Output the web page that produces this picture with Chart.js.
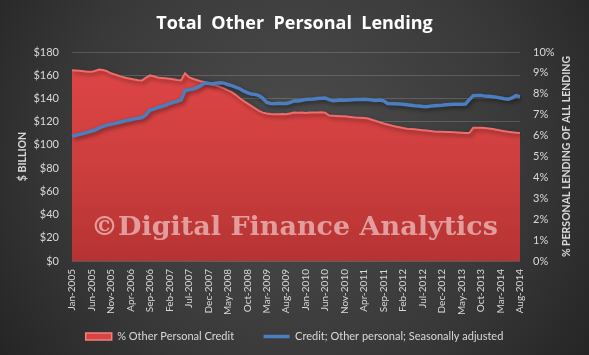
<!DOCTYPE html>
<html>
<head>
<meta charset="utf-8">
<script src="https://cdn.jsdelivr.net/npm/chart.js@4.4.1/dist/chart.umd.min.js"></script>
<style>
  html, body { margin: 0; padding: 0; background: #333; }
  #wrap { width: 589px; height: 355px; position: relative; }
</style>
</head>
<body>
<div id="wrap"><canvas id="c" width="589" height="355"></canvas></div>
<script>
// ---------- DATA ----------
const monthNames = ['Jan','Feb','Mar','Apr','May','Jun','Jul','Aug','Sep','Oct','Nov','Dec'];
const categories = [];
for (let i = 0; i < 116; i++) {
  categories.push(monthNames[i % 12] + '-' + (2005 + Math.floor(i / 12)));
}

// % Other Personal Credit (right axis, %), Jan-2005 .. Aug-2014
const pctOtherPersonal = [
  9.13, 9.12, 9.10, 9.08, 9.06,  9.05, 9.10, 9.16, 9.14, 9.08,
  8.98, 8.92, 8.86, 8.80, 8.76,  8.72, 8.68, 8.65, 8.64, 8.78,
  8.88, 8.84, 8.78, 8.76, 8.74,  8.72, 8.70, 8.66, 8.64, 8.98,
  8.80, 8.72, 8.66, 8.60, 8.56,  8.52, 8.46, 8.40, 8.33, 8.26,
  8.16, 8.08, 7.95, 7.80, 7.66,  7.54, 7.42, 7.30, 7.18, 7.10,
  7.06, 7.03, 7.02, 7.02, 7.03,  7.02, 7.06, 7.10, 7.09, 7.10,
  7.08, 7.10, 7.10, 7.11, 7.12,  7.10, 6.96, 6.95, 6.94, 6.93,
  6.92, 6.90, 6.88, 6.86, 6.85,  6.84, 6.82, 6.76, 6.70, 6.64,
  6.58, 6.53, 6.48, 6.44, 6.40,  6.36, 6.33, 6.31, 6.30, 6.28,
  6.26, 6.24, 6.22, 6.20, 6.19,  6.18, 6.17, 6.17, 6.16, 6.15,
  6.14, 6.13, 6.12, 6.38, 6.38,  6.37, 6.36, 6.34, 6.32, 6.28,
  6.24, 6.21, 6.18, 6.16, 6.14,  6.12
];

// Credit; Other personal; Seasonally adjusted ($ billion, left axis)
const creditOtherPersonal = [
  107.5, 108.3, 109.2, 110.0, 110.8,  111.8, 112.8, 114.7, 116.0, 117.0,
  117.7, 118.5, 119.3, 120.1, 120.9,  121.7, 122.4, 123.0, 123.5, 126.0,
  129.9, 130.8, 132.2, 133.0, 134.0,  135.5, 136.6, 137.6, 138.7, 146.8,
  147.5, 148.0, 149.1, 151.0, 153.2,  153.0, 152.5, 153.2, 153.5, 153.2,
  152.0, 151.0, 149.7, 148.5, 146.5,  145.0, 143.9, 143.5, 142.4, 140.0,
  136.5, 135.7, 135.5, 135.8, 135.6,  135.7, 136.5, 138.0, 137.8, 138.5,
  139.0, 139.3, 139.6, 140.0, 140.2,  140.4, 139.0, 138.0, 138.2, 138.6,
  138.5, 138.7, 138.9, 139.0, 139.0,  139.2, 139.0, 138.6, 138.3, 138.7,
  138.0, 135.7, 135.5, 135.4, 135.2,  135.0, 134.6, 134.2, 133.8, 133.5,
  133.0, 132.8, 133.4, 133.8, 134.0,  134.2, 134.5, 134.8, 135.0, 135.0,
  135.1, 135.2, 139.0, 142.4, 142.6,  142.5, 142.0, 141.8, 141.5, 141.0,
  140.4, 139.8, 139.4, 140.5, 142.4,  141.5
];

const leftTicks = { min: 0, max: 180, step: 20 };
const rightTicks = { min: 0, max: 10, step: 1 };
const titleText = 'Total  Other  Personal  Lending';
const leftAxisTitle = '$ BILLION';
const rightAxisTitle = '% PERSONAL LENDING OF ALL LENDING';
const watermarkText = '\u00A9Digital Finance Analytics';
const seriesNames = ['% Other Personal Credit', 'Credit; Other personal; Seasonally adjusted'];

// ---------- STYLE ----------
const TXT = '#d9d9d9';
Chart.defaults.font.family = 'Lato, "Open Sans", sans-serif';
Chart.defaults.color = TXT;

const bgPlugin = {
  id: 'bg',
  beforeDraw(chart) {
    const ctx = chart.ctx, w = chart.width, h = chart.height;
    ctx.save();
    const g = ctx.createRadialGradient(w * 0.5, h * 0.42, 10, w * 0.5, h * 0.42, w * 0.62);
    g.addColorStop(0, '#4c4c4c');
    g.addColorStop(0.6, '#393939');
    g.addColorStop(1, '#242424');
    ctx.fillStyle = g;
    ctx.fillRect(0, 0, w, h);
    ctx.restore();
  }
};

const shadowPlugin = {
  id: 'shadow',
  beforeDatasetDraw(chart, args) {
    const ctx = chart.ctx;
    ctx.save();
    ctx.shadowColor = 'rgba(0,0,0,0.45)';
    ctx.shadowBlur = 4;
    ctx.shadowOffsetX = 2;
    ctx.shadowOffsetY = 2;
  },
  afterDatasetDraw(chart) {
    chart.ctx.restore();
  }
};

const textPlugin = {
  id: 'texts',
  afterDatasetsDraw(chart) {
    const ctx = chart.ctx;
    ctx.save();
    ctx.font = 'bold 26px "DejaVu Serif", serif';
    const tw = ctx.measureText(watermarkText).width;
    const target = 407;
    const cx = 294.5, by = 235;
    ctx.translate(cx, by);
    ctx.scale(target / tw, 1);
    ctx.fillStyle = 'rgba(255,238,238,0.56)';
    ctx.textAlign = 'center';
    ctx.textBaseline = 'alphabetic';
    ctx.fillText(watermarkText, 0, 0);
    ctx.restore();
  },
  afterDraw(chart) {
    const ctx = chart.ctx;
    const a = chart.chartArea;
    ctx.save();
    ctx.font = 'bold 10.5px Lato, sans-serif';
    ctx.fillStyle = TXT;
    ctx.textAlign = 'center';
    ctx.textBaseline = 'middle';
    ctx.translate(567, (a.top + a.bottom) / 2);
    ctx.rotate(-Math.PI / 2);
    ctx.fillText(rightAxisTitle, 0, 0);
    ctx.restore();
  }
};

const ctx = document.getElementById('c').getContext('2d');

function redFill(context) {
  const chart = context.chart;
  const a = chart.chartArea;
  if (!a) return '#d24040';
  const g = chart.ctx.createLinearGradient(0, a.top, 0, a.bottom);
  g.addColorStop(0, '#e04646');
  g.addColorStop(0.5, '#cf3f3f');
  g.addColorStop(1, '#b63333');
  return g;
}

new Chart(ctx, {
  type: 'line',
  data: {
    labels: categories,
    datasets: [
      {
        label: seriesNames[0],
        data: pctOtherPersonal,
        yAxisID: 'y1',
        fill: 'origin',
        backgroundColor: redFill,
        borderColor: '#ee6c6c',
        borderWidth: 2,
        pointRadius: 0,
        tension: 0,
        order: 2
      },
      {
        label: seriesNames[1],
        data: creditOtherPersonal,
        yAxisID: 'y',
        fill: false,
        borderColor: '#4a7ec0',
        borderWidth: 3.5,
        pointRadius: 0,
        tension: 0,
        order: 1
      }
    ]
  },
  options: {
    responsive: false,
    animation: false,
    devicePixelRatio: 1,
    layout: { padding: { left: 0, right: 0, top: 0, bottom: 3 } },
    plugins: {
      tooltip: { enabled: false },
      title: {
        display: true,
        text: titleText,
        color: '#ffffff',
        font: { family: '"Open Sans", sans-serif', size: 18, weight: 'bold', lineHeight: 1.2 },
        padding: { top: 13, bottom: 17.4 }
      },
      legend: {
        display: true,
        position: 'bottom',
        labels: {
          color: TXT,
          font: { size: 11 },
          usePointStyle: true,
          pointStyleWidth: 26,
          boxHeight: 7,
          padding: 13,
          sort: (a, b) => a.datasetIndex - b.datasetIndex,
          generateLabels(chart) {
            const items = Chart.defaults.plugins.legend.labels.generateLabels(chart);
            items.forEach(it => {
              if (it.datasetIndex === 0) {
                it.text = it.text + '\u2002\u2002\u2002';
                it.pointStyle = 'rect';
                it.fillStyle = '#d84444';
                it.strokeStyle = '#f08080';
                it.lineWidth = 1.5;
              } else {
                it.pointStyle = 'line';
                it.strokeStyle = '#4a7ec0';
                it.lineWidth = 3.5;
              }
            });
            return items;
          }
        }
      }
    },
    scales: {
      x: {
        type: 'category',
        offset: false,
        grid: { display: false, drawTicks: false },
        border: { display: false },
        ticks: {
          autoSkip: false,
          maxRotation: 90,
          minRotation: 90,
          padding: 8,
          color: TXT,
          font: { size: 10 },
          callback: (v, i) => (i % 5 === 0 ? categories[i] : null)
        },
        afterFit(scale) { scale.height = 57; }
      },
      y: {
        position: 'left',
        min: leftTicks.min,
        max: leftTicks.max,
        grid: { color: 'rgba(255,255,255,0.16)', lineWidth: 1, drawTicks: false },
        border: { display: false },
        ticks: {
          stepSize: leftTicks.step,
          padding: 13,
          color: TXT,
          font: { size: 11 },
          callback: v => '$' + v
        },
        title: {
          display: true,
          text: leftAxisTitle,
          color: TXT,
          font: { size: 10.5, weight: 'bold' },
          padding: { top: 16, bottom: 0 }
        },
        afterFit(scale) { scale.width = 72; }
      },
      y1: {
        position: 'right',
        min: rightTicks.min,
        max: rightTicks.max,
        grid: { display: false, drawTicks: false },
        border: { display: false },
        ticks: {
          stepSize: rightTicks.step,
          padding: 13,
          color: TXT,
          font: { size: 11 },
          callback: v => v + '%'
        },
        afterFit(scale) { scale.width = 69; }
      }
    }
  },
  plugins: [bgPlugin, shadowPlugin, textPlugin]
});
</script>
</body>
</html>
